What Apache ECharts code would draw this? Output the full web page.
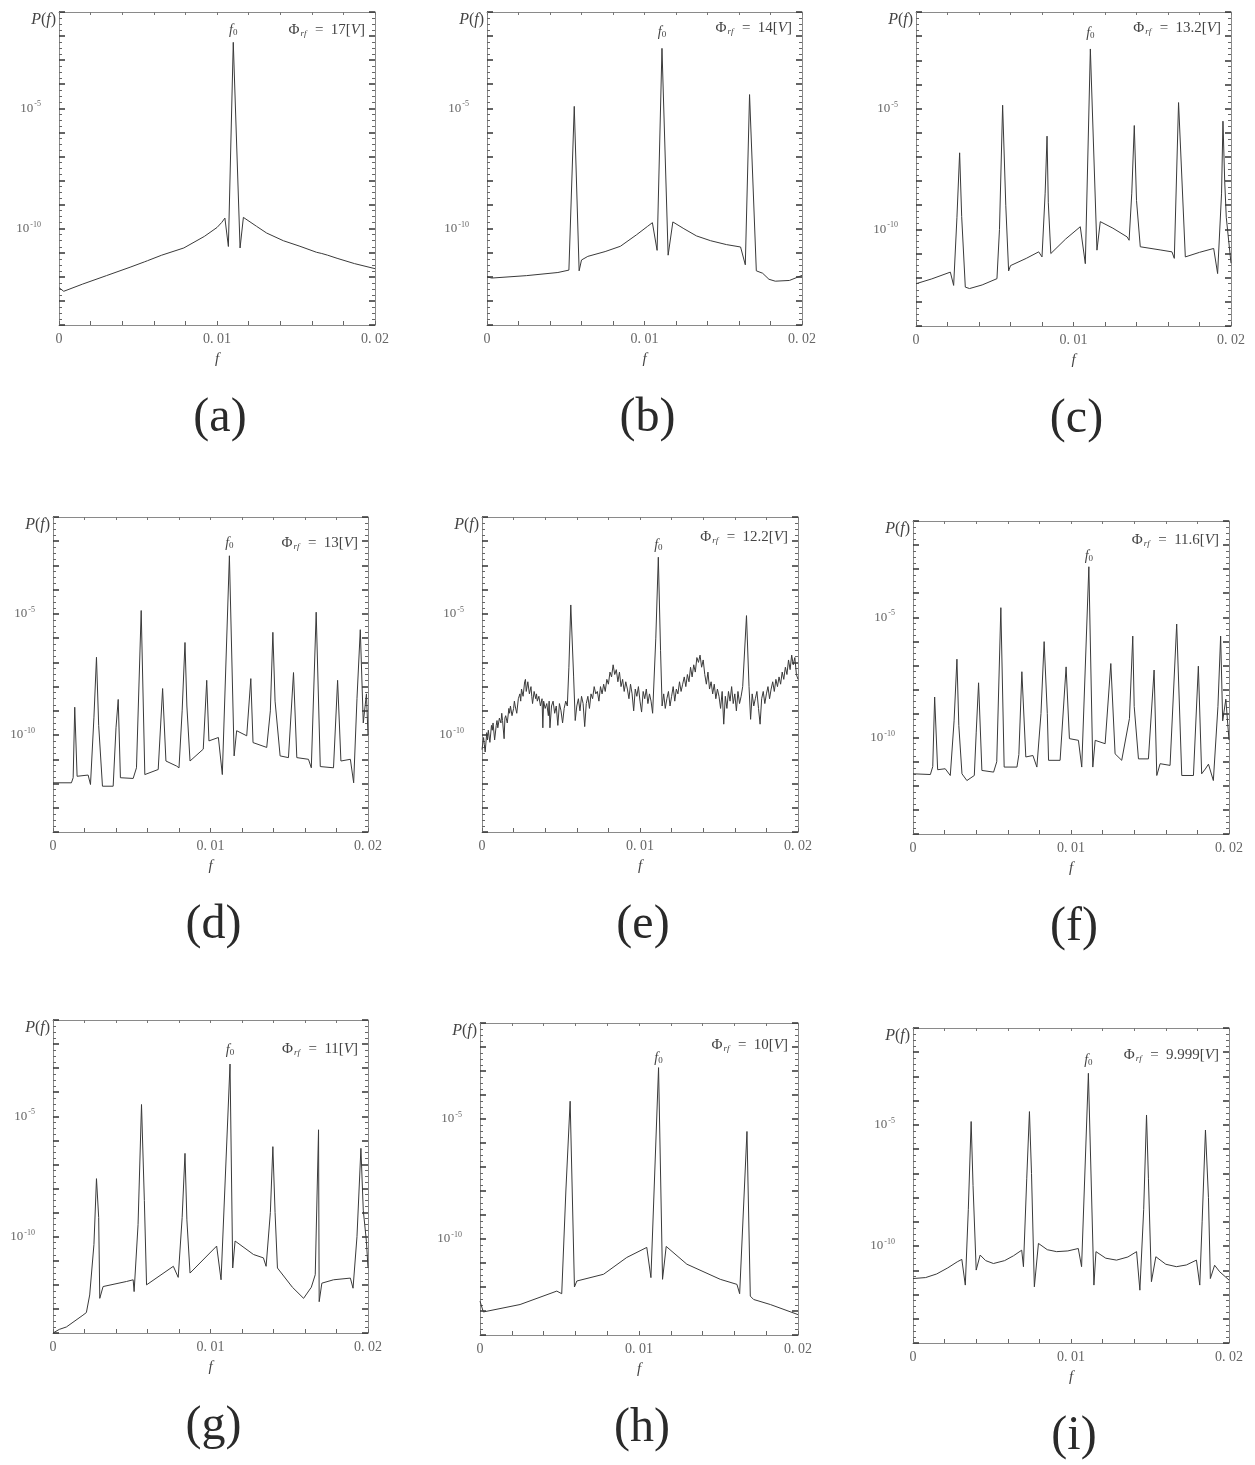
<!DOCTYPE html>
<html><head><meta charset="utf-8">
<script src="https://cdn.jsdelivr.net/npm/echarts@6/dist/echarts.min.js"></script>
<style>html,body{margin:0;padding:0;background:#fff}#c{width:1255px;height:1465px}</style>
</head><body><div id="c"></div>
<script>
// ---------- data (f, log10 P(f)) ----------
const panelLabels = ['(a)','(b)','(c)','(d)','(e)','(f)','(g)','(h)','(i)'];
const phiValues = ['17','14','13.2','13','12.2','11.6','11','10','9.999'];
const f0Freq = [0.01103,0.01111,0.01107,0.0112,0.01116,0.01113,0.01124,0.01123,0.0111];
const xTickText = [[0,'0'],[0.01,'0. 01'],[0.02,'0. 02']];
const yTickText = [[-5,'-5'],[-10,'-10']];

const specA = [[0,-12.45],[0.0003,-12.6],[0.0015,-12.3],[0.003,-11.95],[0.0045,-11.6],[0.0054,-11.38],[0.0056,-11.33],[0.0065,-11.1],[0.0079,-10.8],[0.0092,-10.32],[0.0100,-9.95],[0.0103,-9.74],[0.0105,-9.56],[0.01072,-10.74],[0.01103,-2.26],[0.01146,-10.8],[0.01167,-9.53],[0.0125,-9.9],[0.01314,-10.18],[0.0142,-10.5],[0.01525,-10.73],[0.0163,-10.98],[0.01663,-11.03],[0.0170,-11.1],[0.0176,-11.23],[0.0187,-11.45],[0.0200,-11.66]];

const specB = [[0,-12.0],[0.0003,-12.05],[0.0025,-11.95],[0.0045,-11.82],[0.0052,-11.72],[0.00554,-4.92],[0.00585,-11.75],[0.0060,-11.3],[0.0064,-11.15],[0.0075,-10.95],[0.00847,-10.73],[0.0095,-10.25],[0.0102,-9.9],[0.0105,-9.75],[0.0108,-10.9],[0.01111,-2.51],[0.0115,-11.1],[0.0118,-9.72],[0.0125,-10.0],[0.0133,-10.3],[0.0142,-10.5],[0.0152,-10.66],[0.0161,-10.76],[0.0164,-11.5],[0.01667,-4.43],[0.0171,-11.75],[0.0175,-11.85],[0.0179,-12.1],[0.0183,-12.18],[0.0192,-12.15],[0.0200,-11.94]];

const specC = [[0,-12.25],[0.0010,-12.05],[0.00218,-11.77],[0.00239,-12.32],[0.0026,-9.5],[0.00277,-6.83],[0.0029,-9.47],[0.00313,-12.39],[0.0034,-12.45],[0.0042,-12.3],[0.00514,-12.04],[0.0053,-10.0],[0.0055,-4.86],[0.0057,-9.0],[0.00588,-11.72],[0.0060,-11.5],[0.0070,-11.2],[0.00779,-10.93],[0.0080,-11.14],[0.0082,-8.5],[0.00832,-6.14],[0.0084,-8.9],[0.00856,-11.0],[0.0095,-10.4],[0.01043,-9.89],[0.01075,-11.42],[0.01107,-2.53],[0.01149,-10.86],[0.0117,-9.68],[0.0125,-9.95],[0.0134,-10.31],[0.01353,-10.45],[0.0137,-8.5],[0.01386,-5.7],[0.0140,-8.8],[0.01424,-10.72],[0.0155,-10.85],[0.01625,-10.93],[0.0164,-11.2],[0.01667,-4.75],[0.0171,-11.14],[0.0180,-10.95],[0.0189,-10.79],[0.01915,-11.83],[0.0194,-8.5],[0.01949,-5.52],[0.0196,-8.0],[0.0197,-9.5],[0.0200,-11.4]];

const specD = [[0,-11.97],[0.00117,-11.97],[0.00128,-11.76],[0.00138,-8.85],[0.00153,-11.7],[0.00223,-11.65],[0.00238,-12.04],[0.0026,-9.26],[0.00276,-6.79],[0.0029,-9.6],[0.00314,-12.11],[0.00382,-12.11],[0.004,-9.7],[0.00414,-8.53],[0.00428,-11.76],[0.00509,-11.79],[0.0053,-11.35],[0.0056,-4.86],[0.00583,-11.63],[0.00668,-11.42],[0.00696,-8.08],[0.00717,-11.07],[0.00785,-11.28],[0.008,-11.35],[0.0082,-9.0],[0.00838,-6.18],[0.0085,-8.8],[0.0087,-11.07],[0.00954,-10.58],[0.00976,-7.74],[0.0099,-10.24],[0.0105,-10.1],[0.01075,-11.63],[0.0112,-2.6],[0.0115,-10.86],[0.01166,-9.82],[0.0123,-10.03],[0.01256,-7.67],[0.0127,-10.31],[0.01357,-10.51],[0.0138,-9.0],[0.01396,-5.76],[0.0141,-8.6],[0.01442,-10.86],[0.01495,-10.93],[0.01527,-7.42],[0.01548,-10.93],[0.01622,-11.0],[0.0164,-11.35],[0.01671,-4.93],[0.01697,-11.3],[0.01781,-11.35],[0.01807,-7.74],[0.01828,-11.07],[0.01888,-11.0],[0.01909,-11.97],[0.0193,-8.5],[0.01951,-5.65],[0.0197,-9.5],[0.0199,-8.3],[0.0200,-10.0]];

const specE = [[0,-10.6],[0.0001,-10.1],[0.00015,-10.4],[0.0002,-10.7],[0.0003,-9.9],[0.00035,-10.2],[0.0004,-9.8],[0.0005,-10.3],[0.0006,-9.6],[0.00065,-9.8],[0.0007,-9.5],[0.0008,-10.2],[0.0009,-9.6],[0.00095,-9.4],[0.0010,-9.7],[0.0011,-9.3],[0.0012,-9.5],[0.00125,-9.1],[0.0013,-9.4],[0.0014,-10.15],[0.00145,-9.3],[0.0015,-9.2],[0.0016,-9.5],[0.0017,-8.9],[0.00175,-9.1],[0.0018,-8.8],[0.0019,-9.2],[0.0020,-8.9],[0.00205,-8.6],[0.0021,-8.8],[0.0022,-9.1],[0.0023,-8.5],[0.0024,-8.3],[0.00245,-8.6],[0.0025,-8.1],[0.0026,-8.4],[0.0027,-7.8],[0.00275,-7.7],[0.0028,-8.2],[0.0029,-7.8],[0.0030,-8.3],[0.0031,-8.0],[0.00315,-8.4],[0.0032,-8.7],[0.0033,-8.2],[0.0034,-8.5],[0.00345,-8.3],[0.0035,-8.6],[0.0036,-8.4],[0.0037,-8.8],[0.0038,-8.5],[0.00385,-9.7],[0.0039,-8.6],[0.0040,-8.9],[0.0041,-8.7],[0.0042,-9.2],[0.00425,-8.6],[0.0043,-9.7],[0.0044,-8.8],[0.0045,-8.6],[0.0046,-9.1],[0.0047,-8.8],[0.0048,-9.6],[0.0049,-8.7],[0.0050,-9.0],[0.0051,-9.5],[0.0052,-8.9],[0.0053,-8.6],[0.0054,-8.8],[0.0055,-7.2],[0.00562,-4.63],[0.0058,-7.6],[0.0059,-9.4],[0.0060,-8.8],[0.0061,-8.5],[0.0062,-9.0],[0.0063,-8.4],[0.0064,-8.7],[0.0065,-9.65],[0.0066,-8.7],[0.0067,-8.4],[0.0068,-8.9],[0.0069,-8.3],[0.0070,-8.5],[0.0071,-8.0],[0.0072,-8.3],[0.0073,-8.2],[0.0074,-8.6],[0.0075,-8.0],[0.0076,-8.3],[0.0077,-7.9],[0.0078,-8.2],[0.0079,-7.7],[0.0080,-7.9],[0.0081,-7.4],[0.0082,-7.6],[0.0083,-7.1],[0.0084,-7.5],[0.0085,-7.3],[0.0086,-7.8],[0.0087,-7.4],[0.0088,-8.0],[0.0089,-7.7],[0.0090,-8.2],[0.0091,-7.8],[0.0092,-8.1],[0.0093,-8.5],[0.0094,-7.9],[0.0095,-8.3],[0.0096,-9.0],[0.0097,-8.1],[0.0098,-8.4],[0.0099,-8.0],[0.0100,-8.6],[0.0101,-9.05],[0.0102,-8.2],[0.0103,-8.5],[0.0104,-8.1],[0.0105,-8.7],[0.0106,-8.3],[0.0107,-8.6],[0.0108,-9.1],[0.0110,-6.0],[0.01116,-2.66],[0.0113,-6.5],[0.0114,-8.8],[0.0115,-8.3],[0.0116,-8.9],[0.0117,-8.5],[0.0118,-8.2],[0.0119,-8.8],[0.0120,-8.4],[0.0121,-8.0],[0.0122,-8.6],[0.0123,-8.1],[0.0124,-8.3],[0.0125,-7.8],[0.0126,-8.2],[0.0127,-7.9],[0.0128,-7.6],[0.0129,-8.0],[0.0130,-7.5],[0.0131,-7.8],[0.0132,-7.2],[0.0133,-7.6],[0.0134,-7.1],[0.0135,-7.4],[0.0136,-6.8],[0.0137,-7.0],[0.0138,-6.7],[0.0139,-7.2],[0.0140,-6.9],[0.0141,-7.5],[0.0142,-7.9],[0.0143,-7.4],[0.0144,-8.1],[0.0145,-7.8],[0.0146,-8.3],[0.0147,-7.9],[0.0148,-8.5],[0.0149,-8.1],[0.0150,-8.4],[0.0151,-8.9],[0.0152,-8.2],[0.0153,-9.55],[0.0154,-8.4],[0.0155,-8.9],[0.0156,-8.2],[0.0157,-8.6],[0.0158,-8.0],[0.0159,-8.7],[0.0160,-8.3],[0.0161,-9.0],[0.0162,-8.2],[0.0163,-8.7],[0.0164,-8.4],[0.0165,-8.0],[0.01674,-5.07],[0.0169,-8.0],[0.0170,-9.35],[0.0171,-8.3],[0.0172,-8.8],[0.0173,-8.5],[0.0174,-8.2],[0.0175,-8.9],[0.0176,-9.55],[0.0177,-8.5],[0.0178,-8.2],[0.0179,-8.7],[0.0180,-8.3],[0.0181,-8.0],[0.0182,-8.5],[0.0183,-8.1],[0.0184,-7.8],[0.0185,-8.2],[0.0186,-7.7],[0.0187,-8.0],[0.0188,-7.6],[0.0189,-7.9],[0.0190,-7.4],[0.0191,-7.7],[0.0192,-7.2],[0.0193,-7.5],[0.0194,-6.9],[0.0195,-7.3],[0.0196,-6.7],[0.0197,-7.1],[0.0198,-6.8],[0.0199,-7.5],[0.0200,-7.7]];

const specF = [[0,-11.5],[0.0011,-11.53],[0.00125,-11.2],[0.00137,-8.31],[0.00156,-11.33],[0.00204,-11.29],[0.00236,-11.57],[0.0026,-9.3],[0.00278,-6.74],[0.0029,-9.5],[0.0031,-11.5],[0.00341,-11.78],[0.00388,-11.57],[0.0040,-9.8],[0.00415,-7.72],[0.00436,-11.36],[0.0051,-11.43],[0.0053,-11.0],[0.00556,-4.6],[0.00577,-11.22],[0.00658,-11.22],[0.0067,-10.7],[0.00689,-7.26],[0.00714,-10.8],[0.00759,-10.74],[0.00784,-11.22],[0.0081,-9.0],[0.0083,-6.01],[0.0085,-9.0],[0.00858,-10.94],[0.00931,-10.94],[0.00969,-7.06],[0.0099,-10.04],[0.01047,-10.11],[0.01068,-11.22],[0.01113,-2.9],[0.01138,-11.22],[0.01153,-10.11],[0.01216,-10.25],[0.01252,-6.92],[0.01279,-10.67],[0.01321,-10.94],[0.0137,-9.2],[0.01391,-5.78],[0.0140,-8.7],[0.01427,-10.88],[0.0149,-10.88],[0.01526,-7.19],[0.01543,-11.57],[0.01564,-11.08],[0.01627,-11.15],[0.01669,-5.28],[0.01701,-11.57],[0.01775,-11.57],[0.01806,-7.03],[0.01827,-11.5],[0.0185,-11.3],[0.0187,-11.1],[0.01901,-11.78],[0.0193,-8.7],[0.01947,-5.78],[0.0196,-9.3],[0.0198,-8.4],[0.0200,-10.1]];

const specG = [[0,-14],[0.0004,-13.85],[0.00085,-13.75],[0.0019,-13.26],[0.00212,-13.15],[0.00233,-12.42],[0.0026,-10.32],[0.00276,-7.59],[0.0029,-9.2],[0.00297,-12.56],[0.00318,-12.07],[0.00467,-11.86],[0.00509,-11.79],[0.00515,-12.28],[0.0054,-9.5],[0.00562,-4.51],[0.0058,-8.5],[0.00594,-12.0],[0.00764,-11.23],[0.00795,-11.69],[0.0082,-9.2],[0.00838,-6.54],[0.0085,-9.3],[0.0087,-11.51],[0.01039,-10.39],[0.01067,-11.79],[0.01124,-2.83],[0.01141,-11.3],[0.01156,-10.18],[0.01273,-10.74],[0.01336,-10.88],[0.01353,-11.23],[0.0138,-9.0],[0.01396,-6.26],[0.0141,-9.0],[0.01425,-11.3],[0.0152,-12.1],[0.01591,-12.56],[0.0164,-12.1],[0.01665,-11.58],[0.01686,-5.56],[0.0169,-12.7],[0.01707,-11.93],[0.01781,-11.79],[0.01888,-11.72],[0.01905,-12.14],[0.0193,-10.0],[0.01955,-6.33],[0.0197,-8.9],[0.0199,-10.2],[0.0200,-11.3]];

const specH = [[0,-12.59],[0.00021,-13.04],[0.00252,-12.73],[0.00483,-12.17],[0.00514,-12.28],[0.0054,-8.0],[0.00567,-4.26],[0.0058,-8.0],[0.00594,-12.0],[0.00609,-11.75],[0.00777,-11.47],[0.00923,-10.77],[0.01049,-10.35],[0.01075,-11.61],[0.01123,-2.86],[0.01148,-11.68],[0.01171,-10.31],[0.01301,-11.05],[0.01511,-11.68],[0.01616,-11.89],[0.01633,-12.28],[0.01679,-5.52],[0.017,-12.38],[0.01721,-12.52],[0.01826,-12.73],[0.0200,-13.15]];

const specI = [[0,-11.34],[0.0008,-11.3],[0.0015,-11.15],[0.0022,-10.9],[0.0028,-10.65],[0.00309,-10.55],[0.00331,-11.61],[0.0035,-8.5],[0.00368,-4.86],[0.0038,-7.5],[0.004,-10.99],[0.00425,-10.37],[0.0046,-10.6],[0.00509,-10.72],[0.0058,-10.6],[0.00636,-10.4],[0.00688,-10.17],[0.00699,-10.85],[0.0072,-7.2],[0.00737,-4.45],[0.0075,-7.0],[0.00768,-11.68],[0.00794,-9.89],[0.0085,-10.15],[0.00909,-10.23],[0.0098,-10.2],[0.01046,-10.1],[0.01067,-10.85],[0.0111,-2.87],[0.01145,-11.61],[0.01158,-10.23],[0.0122,-10.5],[0.01288,-10.58],[0.0136,-10.45],[0.01415,-10.23],[0.01436,-11.82],[0.0146,-8.5],[0.01478,-4.59],[0.0149,-7.2],[0.01509,-11.47],[0.01537,-10.44],[0.0160,-10.75],[0.01667,-10.85],[0.0173,-10.78],[0.01794,-10.58],[0.01815,-11.61],[0.0183,-9.0],[0.01851,-5.21],[0.0187,-8.0],[0.01882,-11.34],[0.01909,-10.79],[0.01941,-11.06],[0.0200,-11.4]];

const spectra = [specA,specB,specC,specD,specE,specF,specG,specH,specI];

// ---------- layout ----------
const boxes = [[59,12,316,313],[487,12,315,313],[916,12,315,314],
               [53,517,315,315],[482,517,316,315],[913,521,316,313],
               [53,1020,315,313],[480,1023,318,312],[913,1028,316,315]];
const phiDy = [18,16,16,26,20,19,29,22,27];
const f0Dy  = [18,20,21,26,28,35,30,35,32];
const serif = "'Liberation Serif', 'DejaVu Serif', serif";

function xFmt(v){ for (const [t,s] of xTickText) if (Math.abs(v-t)<1e-9) return s; return ''; }
function yFmt(v){ for (const [t,s] of yTickText) if (Math.abs(v-t)<1e-9) return '{b|10}{s|' + s + '}'; return ''; }

const grid=[], xAxis=[], yAxis=[], series=[], graphic=[];
const lineCol = '#8a8a8a';
boxes.forEach((b,k)=>{
  grid.push({left:b[0], top:b[1], width:b[2], height:b[3], show:false, containLabel:false});
  const common = {gridIndex:k, type:'value', min:0, max:0.02, interval:0.002,
    axisLine:{show:true, onZero:false, lineStyle:{color:lineCol, width:1}},
    splitLine:{show:false}};
  xAxis.push(Object.assign({}, common, {position:'bottom',
    axisTick:{show:true, inside:true, length:4, lineStyle:{color:'#666'}},
    axisLabel:{show:true, formatter:xFmt, color:'#666', fontFamily:serif, fontSize:14, margin:7, showMinLabel:true, showMaxLabel:true, hideOverlap:false},
    name:'f', nameLocation:'middle', nameGap:27,
    nameTextStyle:{fontStyle:'italic', fontFamily:serif, fontSize:15, color:'#444'}}));
  xAxis.push(Object.assign({}, common, {position:'top',
    axisTick:{show:true, inside:true, length:3, lineStyle:{color:'#777'}},
    axisLabel:{show:false}}));
  const ycommon = {gridIndex:k, type:'value', min:-14, max:-1, interval:1,
    axisLine:{show:true, onZero:false, lineStyle:{color:lineCol, width:1}},
    splitLine:{show:false},
    axisTick:{show:true, inside:true, length:6, lineStyle:{color:'#333', width:1.5}},
    minorTick:{show:true, splitNumber:4, length:3, lineStyle:{color:'#666'}}};
  yAxis.push(Object.assign({}, ycommon, {position:'left',
    axisLabel:{show:true, formatter:yFmt, margin:18, showMinLabel:true, showMaxLabel:true,
      rich:{b:{fontSize:13, fontFamily:serif, color:'#666', lineHeight:16},
            s:{fontSize:8, fontFamily:serif, color:'#666', verticalAlign:'top', lineHeight:16, padding:[0,0,8,1]}}}}));
  yAxis.push(Object.assign({}, ycommon, {position:'right', axisLabel:{show:false}}));
  series.push({type:'line', xAxisIndex:2*k, yAxisIndex:2*k, data:spectra[k], showSymbol:false,
    symbol:'none', lineStyle:{width:1, color:'#3a3a3a'}, silent:true, animation:false, clip:true});

  // texts
  graphic.push({type:'text', x:b[0]-3, y:b[1]+8, silent:true,
    style:{text:'{i|P}{t|(}{i|f}{t|)}', align:'right', verticalAlign:'middle',
      rich:{i:{fontStyle:'italic', fontFamily:serif, fontSize:16, fill:'#444'}, t:{fontFamily:serif, fontSize:16, fill:'#444'}}}});
  graphic.push({type:'text', x:b[0]+b[2]-10, y:b[1]+phiDy[k], silent:true,
    style:{text:'{p|Φ}{u|rf}{t|  =  ' + phiValues[k] + '[}{i|V}{t|]}', align:'right', verticalAlign:'middle',
      rich:{p:{fontFamily:serif, fontSize:15, fill:'#444'},
            u:{fontFamily:serif, fontStyle:'italic', fontSize:9, fill:'#444', verticalAlign:'bottom', padding:[7,1,0,1]},
            t:{fontFamily:serif, fontSize:15, fill:'#444'},
            i:{fontFamily:serif, fontStyle:'italic', fontSize:15, fill:'#444'}}}});
  graphic.push({type:'text', x:b[0]+f0Freq[k]/0.02*b[2], y:b[1]+f0Dy[k], silent:true,
    style:{text:'{f|f}{z|0}', align:'center', verticalAlign:'middle',
      rich:{f:{fontFamily:serif, fontStyle:'italic', fontSize:14, fill:'#444'},
            z:{fontFamily:serif, fontSize:9, fill:'#444', verticalAlign:'bottom', padding:[6,0,0,0]}}}});
  graphic.push({type:'text', x:b[0]+b[2]/2+3, y:b[1]+b[3]+93, silent:true,
    style:{text:panelLabels[k], align:'center', verticalAlign:'middle',
      font:"48px 'Liberation Serif', serif", fill:'#2a2a2a'}});
});

const chart = echarts.init(document.getElementById('c'), null, {renderer:'canvas'});
chart.setOption({animation:false, backgroundColor:'#fff', grid, xAxis, yAxis, series, graphic});
</script>
</body></html>
